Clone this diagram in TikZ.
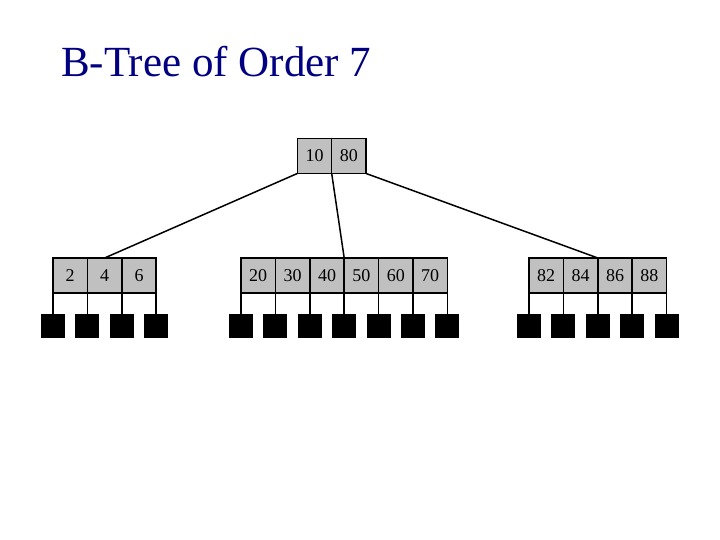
\documentclass[tikz,border=0pt]{standalone}
\usepackage{fontspec}
\setmainfont{Liberation Serif}
\usetikzlibrary{positioning}
\definecolor{navy}{RGB}{0,0,128}
\definecolor{keygrey}{RGB}{192,192,192}
\tikzset{
  key/.style={draw, fill=keygrey, line width=1.5pt, minimum width=34.4pt, minimum height=35pt,
    inner sep=0pt, outer sep=0pt, font=\fontsize{18}{18}\selectfont},
  ptr/.style={fill=black, minimum size=24pt, inner sep=0pt, outer sep=0pt},
  link/.style={line width=1.5pt}
}
\begin{document}
\begin{tikzpicture}[x=1pt, y=1pt]
    \path [use as bounding box] (0,0) rectangle (720,540);
    \node [navy, anchor=base west, inner sep=0pt, font=\fontsize{43}{43}\selectfont] (title) at (61,463) {B-Tree of Order 7};
    % root
    \node [key] (r1) at (314.5,384) {10};
    \node [key, right=0pt of r1] (r2) {80};
    % left leaf
    \node [key] (a1) at (70.2,264.5) {2};
    \node [key, right=0pt of a1] (a2) {4};
    \node [key, right=0pt of a2] (a3) {6};
    % middle leaf
    \node [key] (b1) at (258.2,264.5) {20};
    \node [key, right=0pt of b1] (b2) {30};
    \node [key, right=0pt of b2] (b3) {40};
    \node [key, right=0pt of b3] (b4) {50};
    \node [key, right=0pt of b4] (b5) {60};
    \node [key, right=0pt of b5] (b6) {70};
    % right leaf
    \node [key] (c1) at (546.2,264.5) {82};
    \node [key, right=0pt of c1] (c2) {84};
    \node [key, right=0pt of c2] (c3) {86};
    \node [key, right=0pt of c3] (c4) {88};
    % child pointers
    \node [ptr, below=21pt of a1.south west] (ap0) {};
    \draw [link] (a1.south west) -- (ap0.north);
    \foreach \k in {1,2,3} {
        \node [ptr, below=21pt of a\k.south east] (ap\k) {};
        \draw [link] (a\k.south east) -- (ap\k.north);
    }
    \node [ptr, below=21pt of b1.south west] (bp0) {};
    \draw [link] (b1.south west) -- (bp0.north);
    \foreach \k in {1,...,6} {
        \node [ptr, below=21pt of b\k.south east] (bp\k) {};
        \draw [link] (b\k.south east) -- (bp\k.north);
    }
    \node [ptr, below=21pt of c1.south west] (cp0) {};
    \draw [link] (c1.south west) -- (cp0.north);
    \foreach \k in {1,...,4} {
        \node [ptr, below=21pt of c\k.south east] (cp\k) {};
        \draw [link] (c\k.south east) -- (cp\k.north);
    }
    % root to leaves
    \draw [link] (r1.south west) -- (a2.north);
    \draw [link] (r1.south east) -- (b3.north east);
    \draw [link] (r2.south east) -- (c2.north east);
\end{tikzpicture}
\end{document}
